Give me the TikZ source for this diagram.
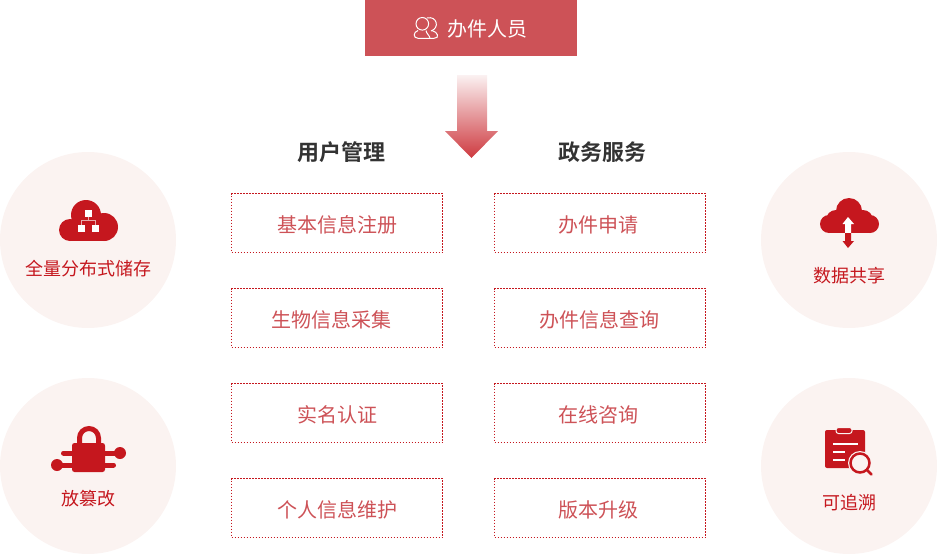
\documentclass[tikz,border=0pt]{standalone}
\usepackage{fontspec}
\setmainfont{Noto Sans CJK SC}
\newfontfamily\boldcjk{Noto Sans CJK SC Bold}
\usetikzlibrary{positioning}
\definecolor{deepred}{HTML}{C5171E}
\definecolor{softred}{HTML}{CD5257}
\definecolor{blush}{HTML}{FBF3F1}
\newcommand{\itemtext}[2]{\hspace*{#1pt}\raisebox{-1.5pt}[\height][\depth]{#2}}
\begin{document}
\begin{tikzpicture}
	[x=1pt,y=-1pt,node distance=36pt,
	boxitem/.style={draw=deepred,line width=1pt,dash pattern=on 1.5pt off 1.5pt,minimum width=211pt,minimum height=59pt,outer sep=0pt,inner sep=0pt,text=softred,font=\fontsize{20}{20}\selectfont},
	headline/.style={text=black!80,font=\boldcjk\fontsize{22}{22}\selectfont},
	disc/.style={circle,fill=blush,minimum size=176pt,inner sep=0pt},
	disclabel/.style={text=deepred,inner sep=0pt,font=\fontsize{18}{18}\selectfont}]
	\useasboundingbox (0,0) rectangle (937,554);
	% header and arrow
	\node [fill=softred,minimum width=212pt,minimum height=56pt,inner sep=0pt,anchor=north west] (staff) at (365,0) {};
	\node [text=white,inner sep=0pt,font=\fontsize{20}{20}\selectfont] (stafftext) at (487.5,29) {办件人员};
	\begin{scope}[white,line width=1pt]
		\draw (422.3,23.8) circle (6.3);
		\draw (427,18) .. controls (437,15.5) and (440,28) .. (431,31);
		\draw (418,30.5) .. controls (413,32) and (413,38.3) .. (418,38.3) -- (434,38.3) .. controls (440,38.3) and (438,32) .. (432,30.5);
		\draw (426,30.5) .. controls (426,33) and (430,36) .. (430,38.3);
	\end{scope}
	\shade [top color=softred!8,bottom color=deepred!85]
		(457,75) -- (487,75) -- (487,131) -- (498,131) -- (471.5,158) -- (445,131) -- (457,131) -- cycle;
	% left column
	\node [boxitem,anchor=north west] (reg) at (231.5,193.5) {\itemtext{0}{基本信息注册}};
	\node [boxitem,below=of reg] (bio) {\itemtext{-12}{生物信息采集}};
	\node [boxitem,below=of bio] (real) {\itemtext{0}{实名认证}};
	\node [boxitem,below=of real] (user) {\itemtext{0}{个人信息维护}};
	\node [headline] (usertitle) at (341,152) {用户管理};
	% right column
	\node [boxitem,right=52pt of reg] (apply) {\itemtext{-4}{办件申请}};
	\node [boxitem,below=of apply] (query) {\itemtext{-2}{办件信息查询}};
	\node [boxitem,below=of query] (online) {\itemtext{-4}{在线咨询}};
	\node [boxitem,below=of online] (upgrade) {\itemtext{-4}{版本升级}};
	\node [headline] (govtitle) at (602,152) {政务服务};
	% discs
	\node [disc] (store) at (88,240) {};
	\node [disc] (tamper) at (88,466) {};
	\node [disc] (share) at (849,240) {};
	\node [disc] (trace) at (849,466) {};
	\node [disclabel] (storetext) at (88,269) {全量分布式储存};
	\node [disclabel] (tampertext) at (88,499) {放篡改};
	\node [disclabel] (sharetext) at (849,276) {数据共享};
	\node [disclabel] (tracetext) at (849,503) {可追溯};
	% cloud icon
	\fill [deepred] (70,230) circle (11) (104,227) circle (14) (86,215) circle (15);
	\fill [deepred] (70,225) rectangle (104,241);
	\begin{scope}[white]
		\fill (84.5,209.5) rectangle +(7,7);
		\fill (77.5,224.5) rectangle +(7,7);
		\fill (92,224.5) rectangle +(7,7);
		\draw [line width=.6pt,softred!50] (88,216.5) -- (88,220.5) (81,224.5) -- (81,220.5) -- (95.5,220.5) -- (95.5,224.5);
	\end{scope}
	% lock icon
	\draw [deepred,line width=5pt] (79.5,450) -- (79.5,438) arc (180:360:9.5) -- (98.5,450);
	\fill [deepred,rounded corners=2.5pt] (72,443) rectangle (105,472);
	\draw [deepred,line width=5pt,line cap=round] (63.5,453) -- (120,453) (57,465) -- (113.5,465);
	\fill [deepred] (120,453) circle (6);
	\fill [deepred] (57,465) circle (6);
	% share icon
	\fill [deepred] (829,224) circle (9) (870,224) circle (9) (836,220) circle (10) (863,220) circle (10) (849,211) circle (13);
	\fill [deepred] (829,218) rectangle (870,233);
	\fill [white] (848,217) -- (854,224) -- (851,224) -- (851,233) -- (845,233) -- (845,224) -- (842.5,224) -- cycle;
	\fill [deepred] (845,233) -- (851,233) -- (851,241) -- (854,241) -- (848,248) -- (842.5,241) -- (845,241) -- cycle;
	% report icon
	\fill [deepred,rounded corners=2pt] (825,430) rectangle (865,468);
	\fill [deepred,rounded corners=2.5pt,draw=blush,line width=1pt] (836,427.5) rectangle (852,433.5);
	\draw [white,line width=1.5pt] (833,444) -- (858,444) (833,452) -- (845,452) (833,460) -- (845,460);
	\fill [blush] (860,463) circle (12);
	\draw [deepred,line width=2.5pt] (860,463) circle (9.5);
	\draw [deepred,line width=2.5pt,line cap=round] (867,470) -- (871.5,474.5);
\end{tikzpicture}
\end{document}
